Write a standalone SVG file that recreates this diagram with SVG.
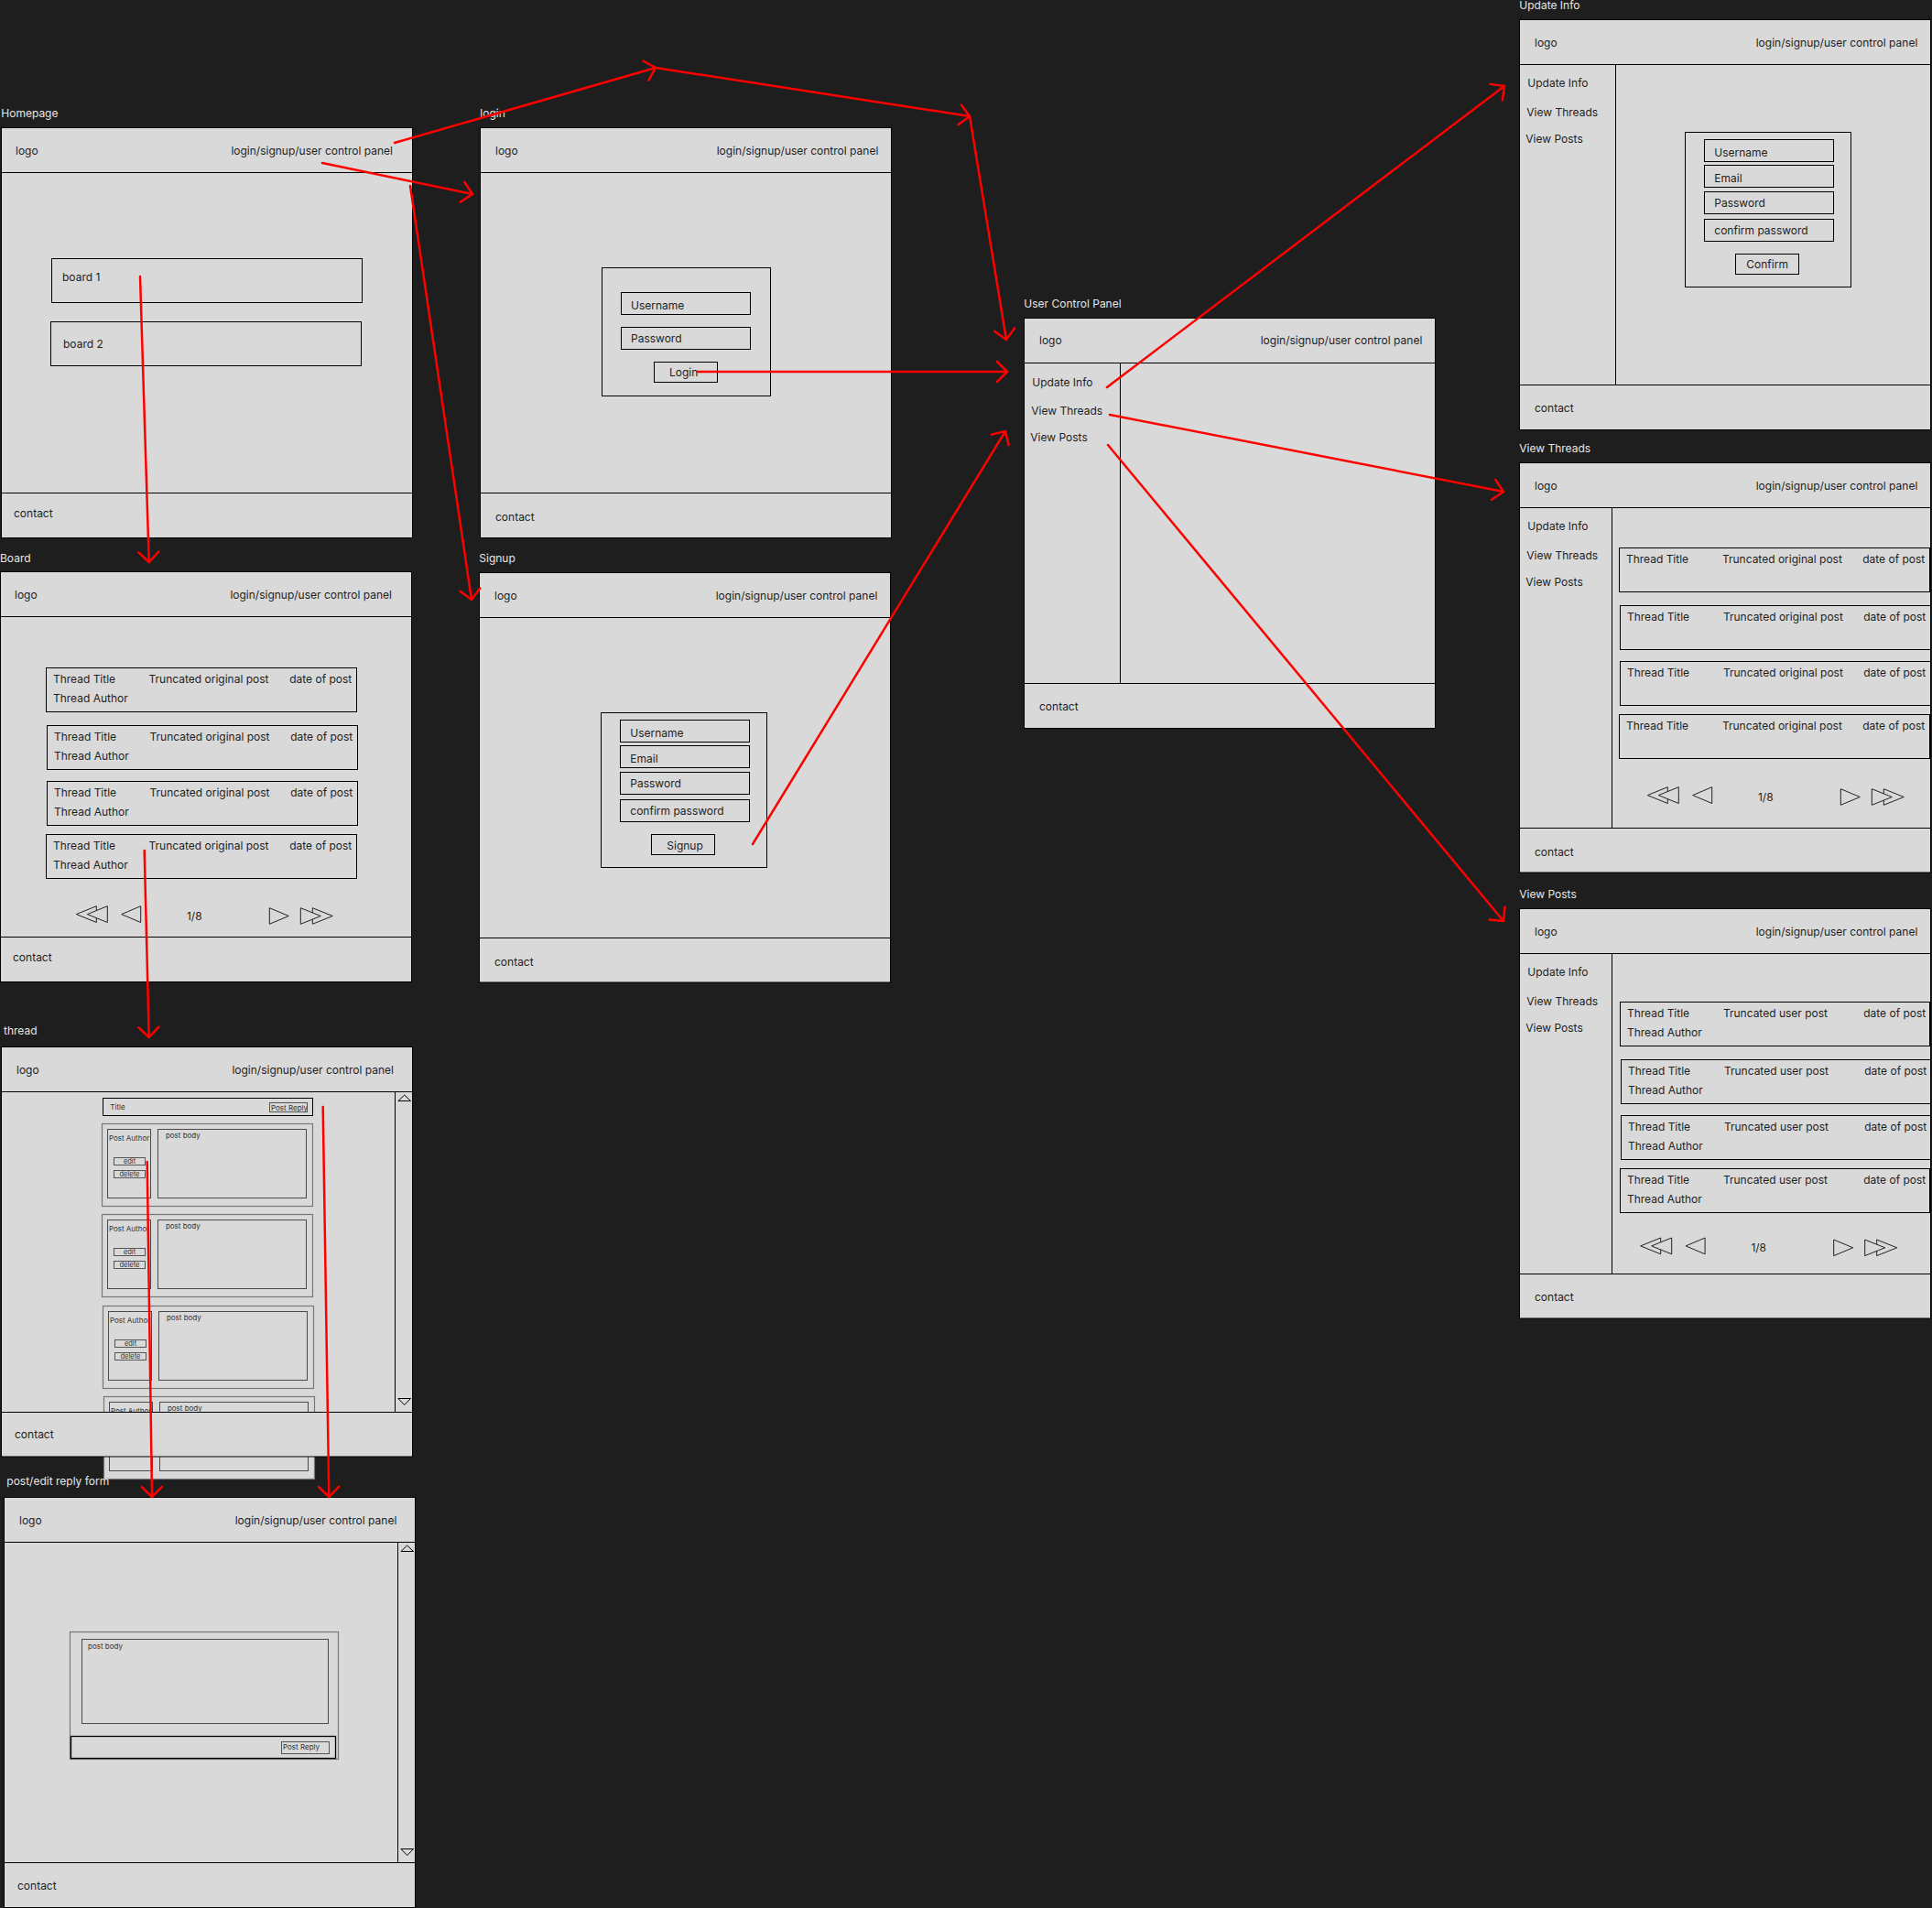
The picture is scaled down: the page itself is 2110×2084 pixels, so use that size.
<svg xmlns="http://www.w3.org/2000/svg" xmlns:xlink="http://www.w3.org/1999/xlink" width="2110" height="2084" viewBox="0 0 2110 2084">
  <style>
    text { font-family: Inter, "Liberation Sans", sans-serif; font-size: 12px; fill: #1e1e1e; transform: translateY(0.8px); }
    .lbl { fill: #e6e6e6; transform: none; }
    .end { text-anchor: end; }
    .mid { text-anchor: middle; }
    .xs { font-size: 8px; fill: #333; }
    .xxs { font-size: 7.5px; fill: #333; }
    .frame { fill: #d9d9d9; stroke: #000; stroke-width: 1; }
    .box { fill: none; stroke: #000; stroke-width: 1; }
    .card { fill: #d9d9d9; stroke: #777; stroke-width: 1.2; }
    .inbox { fill: none; stroke: #4a4a4a; stroke-width: 1; }
    .btn { fill: none; stroke: #555; stroke-width: 1; }
    .pg path { fill: #d9d9d9; stroke: #222; stroke-width: 1; }
    .link { fill: none; stroke: #ff0000; stroke-width: 2.5; stroke-linecap: round; marker-end: url(#arrow); }
  </style>
  <defs>
    <marker id="arrow" markerUnits="userSpaceOnUse" viewBox="-13 -13 16 26" refX="0" refY="0" markerWidth="16" markerHeight="26" orient="auto" overflow="visible">
      <path d="M-11,-11 L0,0 L-11,11" fill="none" stroke="#ff0000" stroke-width="2.5" stroke-linecap="round" stroke-linejoin="round"/>
    </marker>
    <!-- thread row with author line -->
    <g id="row-ta">
      <rect class="box" x="0" y="0" width="339" height="48"/>
      <text x="7.4" y="15.4">Thread Title</text>
      <text x="112" y="15.4">Truncated original post</text>
      <text x="265.7" y="15.4">date of post</text>
      <text x="7.4" y="36.4">Thread Author</text>
    </g>
    <!-- thread row, title only -->
    <g id="row-t">
      <rect class="box" x="0" y="0" width="339" height="48"/>
      <text x="7.4" y="15.4">Thread Title</text>
      <text x="112.4" y="15.4">Truncated original post</text>
      <text x="265.7" y="15.4">date of post</text>
    </g>
    <!-- user post row -->
    <g id="row-ua">
      <rect class="box" x="0" y="0" width="338" height="48"/>
      <text x="7.4" y="15.4">Thread Title</text>
      <text x="112.4" y="15.4">Truncated user post</text>
      <text x="265.7" y="15.4">date of post</text>
      <text x="7.4" y="36.4">Thread Author</text>
    </g>
    <!-- pagination controls -->
    <g id="pager" class="pg">
      <path d="M22,-10.3 L0,-1.4 L22,7.5 Z"/>
      <path d="M34,-10.3 L12,-1.4 L34,7.5 Z"/>
      <path d="M70.4,-10.3 L49.4,-1.4 L70.4,7.5 Z"/>
      <text x="120.7" y="4.3">1/8</text>
      <path d="M258,-8.3 L280,0.5 L258,9.3 Z"/>
      <path d="M245,-8.3 L267,0.5 L245,9.3 Z"/>
      <path d="M211,-8.3 L232,0.5 L211,9.3 Z"/>
    </g>
    <!-- single post in a thread -->
    <g id="post-card">
      <rect class="card" x="0" y="0" width="230" height="90"/>
      <rect class="inbox" x="6" y="6" width="47" height="75"/>
      <rect class="inbox" x="61" y="6" width="162" height="75"/>
      <text class="xs" x="7.4" y="17.5">Post Author</text>
      <rect class="btn" x="13" y="37" width="34" height="8"/>
      <text class="xxs mid" x="30" y="42.8">edit</text>
      <rect class="btn" x="13" y="51" width="34" height="8"/>
      <text class="xxs mid" x="30" y="56.4">delete</text>
      <text class="xs" x="69.4" y="15.2">post body</text>
    </g>
    <!-- vertical scrollbar -->
    <g id="scrollbar">
      <rect class="frame" x="0" y="0" width="19" height="350"/>
      <path d="M3.4,10 L10.2,3.5 L17,10 Z" fill="none" stroke="#000"/>
      <path d="M3.4,335 L17,335 L10.2,342 Z" fill="none" stroke="#000"/>
    </g>
  </defs>

  <rect x="0" y="0" width="2110" height="2084" fill="#1e1e1e"/>

  <!-- Homepage -->
  <g id="homepage">
    <text class="lbl" x="1.3" y="128">Homepage</text>
    <rect class="frame" x="1.5" y="188.5" width="449" height="350"/>
    <rect class="frame" x="1.5" y="139.5" width="449" height="49"/>
    <rect class="frame" x="1.5" y="538.5" width="449" height="49"/>
    <text x="17" y="168">logo</text>
    <text class="end" x="429" y="168">login/signup/user control panel</text>
    <rect class="box" x="56.5" y="282.5" width="339" height="48"/>
    <text x="68" y="306.7">board 1</text>
    <rect class="box" x="55.5" y="351.5" width="339" height="48"/>
    <text x="69" y="379.7">board 2</text>
    <text x="15" y="564">contact</text>
  </g>

  <!-- login -->
  <g id="login">
    <text class="lbl" x="524.3" y="128">login</text>
    <rect class="frame" x="524.5" y="188.5" width="449" height="350"/>
    <rect class="frame" x="524.5" y="139.5" width="449" height="49"/>
    <rect class="frame" x="524.5" y="538.5" width="449" height="49"/>
    <text x="541" y="168">logo</text>
    <text class="end" x="959.3" y="168">login/signup/user control panel</text>
    <rect class="box" x="657.5" y="292.5" width="184" height="140"/>
    <rect class="box" x="678.5" y="319.5" width="141" height="24"/>
    <text x="689" y="337">Username</text>
    <rect class="box" x="678.5" y="357.5" width="141" height="24"/>
    <text x="689" y="373.7">Password</text>
    <rect class="box" x="714.5" y="395.5" width="69" height="22"/>
    <text x="731" y="410.7">Login</text>
    <text x="541" y="568">contact</text>
  </g>

  <!-- Board -->
  <g id="board">
    <text class="lbl" x="0" y="613.7">Board</text>
    <rect class="frame" x="0.5" y="673.5" width="449" height="350"/>
    <rect class="frame" x="0.5" y="624.5" width="449" height="49"/>
    <rect class="frame" x="0.5" y="1023.5" width="449" height="49"/>
    <text x="16" y="653">logo</text>
    <text class="end" x="428" y="653">login/signup/user control panel</text>
    <use xlink:href="#row-ta" x="50.5" y="729.5"/>
    <use xlink:href="#row-ta" x="51.5" y="792.5"/>
    <use xlink:href="#row-ta" x="51.5" y="853.5"/>
    <use xlink:href="#row-ta" x="50.5" y="911.5"/>
    <use xlink:href="#pager" x="83.3" y="1000"/>
    <text x="14" y="1049">contact</text>
  </g>

  <!-- Signup -->
  <g id="signup">
    <text class="lbl" x="523.3" y="613.7">Signup</text>
    <rect class="frame" x="523.5" y="674.5" width="449" height="350"/>
    <rect class="frame" x="523.5" y="625.5" width="449" height="49"/>
    <rect class="frame" x="523.5" y="1024.5" width="449" height="48.5"/>
    <text x="540" y="654">logo</text>
    <text class="end" x="958.3" y="654">login/signup/user control panel</text>
    <rect class="box" x="656.5" y="778.5" width="181" height="169"/>
    <rect class="box" x="677.5" y="786.5" width="141" height="24"/>
    <text x="688.3" y="804.7">Username</text>
    <rect class="box" x="677.5" y="814.5" width="141" height="24"/>
    <text x="688.3" y="832.7">Email</text>
    <rect class="box" x="677.5" y="843.5" width="141" height="24"/>
    <text x="688.3" y="859.7">Password</text>
    <rect class="box" x="677.5" y="873.5" width="141" height="24"/>
    <text x="688.3" y="889.7">confirm password</text>
    <rect class="box" x="711.5" y="911.5" width="69" height="22"/>
    <text x="728.3" y="927">Signup</text>
    <text x="540" y="1054">contact</text>
  </g>

  <!-- thread -->
  <g id="thread">
    <text class="lbl" x="4" y="1129.7">thread</text>
    <rect class="frame" x="1.5" y="1192.5" width="449" height="350"/>
    <rect class="frame" x="1.5" y="1143.5" width="449" height="49"/>
    <text x="18" y="1172">logo</text>
    <text class="end" x="430" y="1172">login/signup/user control panel</text>
    <rect class="box" x="112.5" y="1199.5" width="229" height="19"/>
    <text class="xs" x="120.3" y="1211">Title</text>
    <rect class="btn" x="294.5" y="1204.5" width="41" height="10"/>
    <text class="xs" x="296" y="1212.6">Post Reply</text>
    <use xlink:href="#post-card" x="111.5" y="1227.5"/>
    <use xlink:href="#post-card" x="111.5" y="1326.5"/>
    <use xlink:href="#post-card" x="112.5" y="1426.5"/>
    <use xlink:href="#post-card" x="113.5" y="1525.5"/>
    <use xlink:href="#scrollbar" x="431.5" y="1192.5"/>
    <rect class="frame" x="1.5" y="1542.5" width="449" height="48.5"/>
    <text x="16" y="1570.7">contact</text>
  </g>

  <!-- post/edit reply form -->
  <g id="reply-form">
    <text class="lbl" x="7.3" y="1621.7">post/edit reply form</text>
    <rect class="frame" x="4.5" y="1684.5" width="449" height="350"/>
    <rect class="frame" x="4.5" y="1635.5" width="449" height="49"/>
    <rect class="frame" x="4.5" y="2034.5" width="449" height="49"/>
    <text x="21" y="1664">logo</text>
    <text class="end" x="433.3" y="1664">login/signup/user control panel</text>
    <use xlink:href="#scrollbar" x="434.5" y="1684.5"/>
    <rect class="card" x="76.5" y="1782.5" width="293" height="139"/>
    <rect class="inbox" x="89.5" y="1790.5" width="269" height="92"/>
    <text class="xs" x="96" y="1800.2">post body</text>
    <rect fill="none" stroke="#000" stroke-width="1.3" x="77.5" y="1896.5" width="289" height="24"/>
    <rect class="btn" x="307.5" y="1902.5" width="52" height="13"/>
    <text class="xs" x="309" y="1910">Post Reply</text>
    <text x="19" y="2063">contact</text>
  </g>

  <!-- User Control Panel -->
  <g id="user-control-panel">
    <text class="lbl" x="1118.3" y="335.7">User Control Panel</text>
    <rect class="frame" x="1118.5" y="347.5" width="449" height="49"/>
    <rect class="frame" x="1118.5" y="396.5" width="105" height="350"/>
    <rect class="frame" x="1223.5" y="396.5" width="344" height="350"/>
    <rect class="frame" x="1118.5" y="746.5" width="449" height="49"/>
    <text x="1135" y="375.7">logo</text>
    <text class="end" x="1553.3" y="375.7">login/signup/user control panel</text>
    <text x="1127.3" y="421">Update Info</text>
    <text x="1126.3" y="452.7">View Threads</text>
    <text x="1125.3" y="481.7">View Posts</text>
    <text x="1135" y="775.7">contact</text>
  </g>

  <!-- Update Info -->
  <g id="update-info">
    <text class="lbl" x="1659.3" y="9.7">Update Info</text>
    <rect class="frame" x="1659.5" y="21.5" width="449" height="49"/>
    <rect class="frame" x="1659.5" y="70.5" width="105" height="350"/>
    <rect class="frame" x="1764.5" y="70.5" width="344" height="350"/>
    <rect class="frame" x="1659.5" y="420.5" width="449" height="49"/>
    <text x="1676" y="50">logo</text>
    <text class="end" x="2094.3" y="50">login/signup/user control panel</text>
    <text x="1668.3" y="94.7">Update Info</text>
    <text x="1667.3" y="126.7">View Threads</text>
    <text x="1666.3" y="155.7">View Posts</text>
    <rect class="box" x="1840.5" y="144.5" width="181" height="169"/>
    <rect class="box" x="1861.5" y="152.5" width="141" height="24"/>
    <text x="1872.3" y="170.7">Username</text>
    <rect class="box" x="1861.5" y="180.5" width="141" height="24"/>
    <text x="1872.3" y="198.7">Email</text>
    <rect class="box" x="1861.5" y="209.5" width="141" height="24"/>
    <text x="1872.3" y="225.7">Password</text>
    <rect class="box" x="1861.5" y="239.5" width="141" height="24"/>
    <text x="1872.3" y="255.7">confirm password</text>
    <rect class="box" x="1895.5" y="277.5" width="69" height="22"/>
    <text x="1907.3" y="292.7">Confirm</text>
    <text x="1676" y="449.7">contact</text>
  </g>

  <!-- View Threads -->
  <g id="view-threads">
    <text class="lbl" x="1659.3" y="493.7">View Threads</text>
    <rect class="frame" x="1659.5" y="505.5" width="449" height="49"/>
    <rect class="frame" x="1659.5" y="554.5" width="101" height="350"/>
    <rect class="frame" x="1760.5" y="554.5" width="348" height="350"/>
    <rect class="frame" x="1659.5" y="904.5" width="449" height="48.5"/>
    <text x="1676" y="534">logo</text>
    <text class="end" x="2094.3" y="534">login/signup/user control panel</text>
    <text x="1668.3" y="578.7">Update Info</text>
    <text x="1667.3" y="610.7">View Threads</text>
    <text x="1666.3" y="639.7">View Posts</text>
    <use xlink:href="#row-t" x="1768.5" y="598.5"/>
    <use xlink:href="#row-t" x="1769.5" y="661.5"/>
    <use xlink:href="#row-t" x="1769.5" y="722.5"/>
    <use xlink:href="#row-t" x="1768.5" y="780.5"/>
    <use xlink:href="#pager" x="1799.3" y="870"/>
    <text x="1676" y="934">contact</text>
  </g>

  <!-- View Posts -->
  <g id="view-posts">
    <text class="lbl" x="1659.3" y="980.7">View Posts</text>
    <rect class="frame" x="1659.5" y="992.5" width="449" height="49"/>
    <rect class="frame" x="1659.5" y="1041.5" width="101" height="350"/>
    <rect class="frame" x="1760.5" y="1041.5" width="348" height="350"/>
    <rect class="frame" x="1659.5" y="1391.5" width="449" height="48.5"/>
    <text x="1676" y="1021">logo</text>
    <text class="end" x="2094.3" y="1021">login/signup/user control panel</text>
    <text x="1668.3" y="1065.7">Update Info</text>
    <text x="1667.3" y="1097.7">View Threads</text>
    <text x="1666.3" y="1126.7">View Posts</text>
    <use xlink:href="#row-ua" x="1769.5" y="1094.5"/>
    <use xlink:href="#row-ua" x="1770.5" y="1157.5"/>
    <use xlink:href="#row-ua" x="1770.5" y="1218.5"/>
    <use xlink:href="#row-ua" x="1769.5" y="1276.5"/>
    <use xlink:href="#pager" x="1791.7" y="1362.3"/>
    <text x="1676" y="1420.7">contact</text>
  </g>

  <!-- navigation links between screens -->
  <g id="connectors">
    <path class="link" d="M431,156 L716,74"/>
    <path class="link" d="M716,74 L1059,127"/>
    <path class="link" d="M1059,127 L1099,371"/>
    <path class="link" d="M352,178 L516,212"/>
    <path class="link" d="M448,203 L515,655"/>
    <path class="link" d="M153,302 L162.7,614"/>
    <path class="link" d="M157.7,929 L162.7,1133"/>
    <path class="link" d="M160.7,1269 L166,1635"/>
    <path class="link" d="M352.7,1209 L359.3,1635"/>
    <path class="link" d="M762,406 L1100,406"/>
    <path class="link" d="M822,922 L1098,471"/>
    <path class="link" d="M1209,423 L1643,94"/>
    <path class="link" d="M1212,453 L1642,537"/>
    <path class="link" d="M1210,486 L1642,1006"/>
  </g>
</svg>
